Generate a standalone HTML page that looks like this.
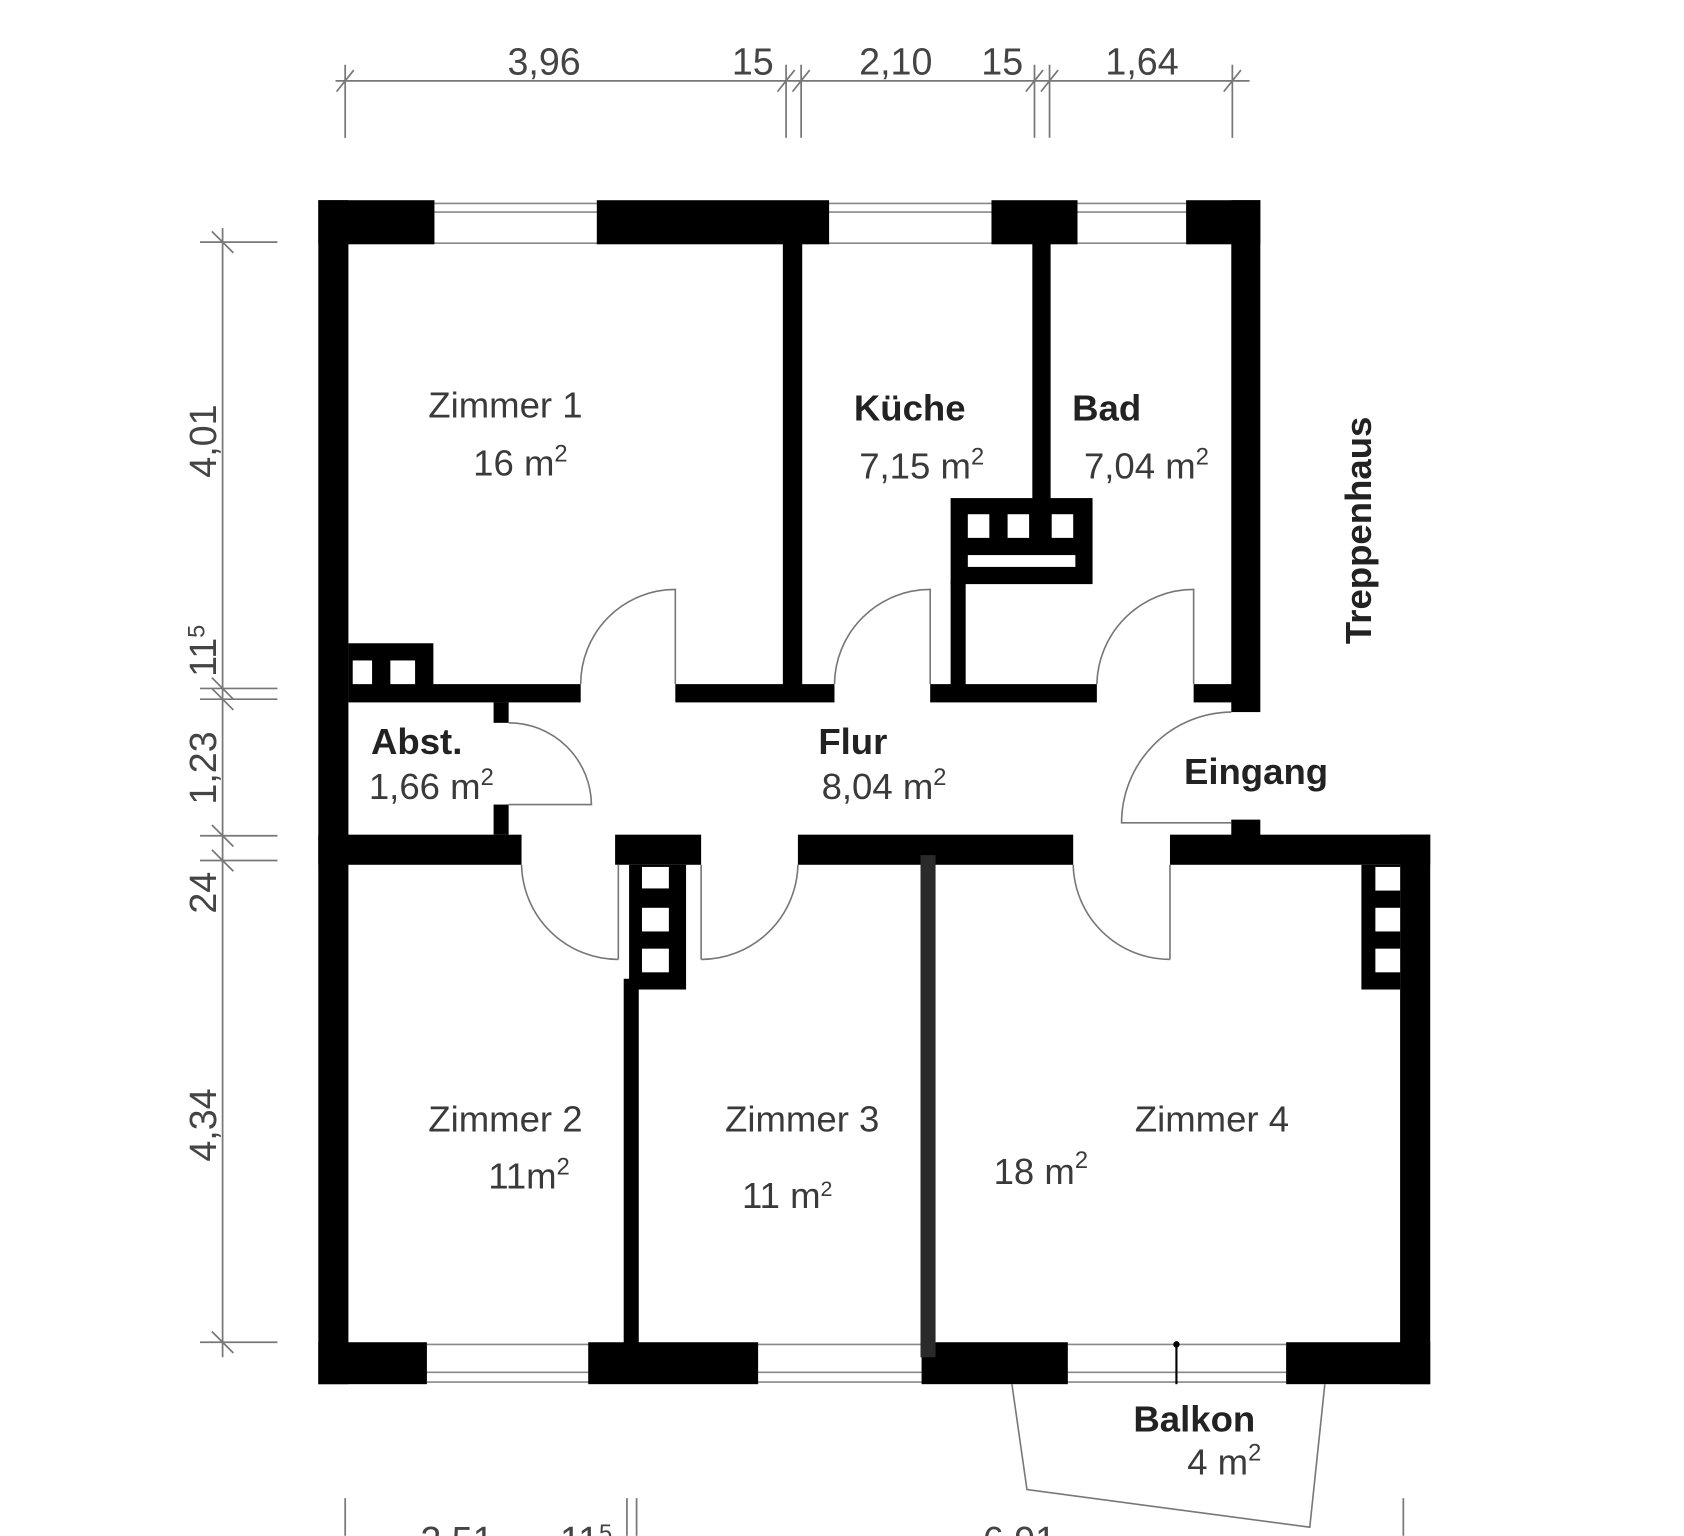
<!DOCTYPE html>
<html><head><meta charset="utf-8"><style>
html,body{margin:0;padding:0;background:#fff;}
svg{display:block;}
text{font-family:"Liberation Sans",sans-serif;}
.n{fill:#3a3a3a;font-size:34px;}
.b{fill:#222;font-size:34px;font-weight:bold;}
.d{fill:#444;font-size:35px;}
</style></head><body>
<svg width="1684" height="1536" viewBox="0 0 1566 1428" xmlns="http://www.w3.org/2000/svg">
<rect width="1566" height="1428" fill="#fff"/>
<g stroke="#777" stroke-width="1.6" fill="none">
<line x1="312" y1="75" x2="1162" y2="75"/>
<line x1="321" y1="60" x2="321" y2="128"/>
<line x1="731" y1="60" x2="731" y2="128"/>
<line x1="745" y1="60" x2="745" y2="128"/>
<line x1="962" y1="60" x2="962" y2="128"/>
<line x1="976" y1="60" x2="976" y2="128"/>
<line x1="1146" y1="60" x2="1146" y2="128"/>
<line x1="313" y1="85" x2="329" y2="65"/>
<line x1="723" y1="85" x2="739" y2="65"/>
<line x1="737" y1="85" x2="753" y2="65"/>
<line x1="954" y1="85" x2="970" y2="65"/>
<line x1="968" y1="85" x2="984" y2="65"/>
<line x1="1138" y1="85" x2="1154" y2="65"/>
<line x1="207" y1="212" x2="207" y2="1262"/>
<line x1="186" y1="225" x2="258" y2="225"/>
<line x1="186" y1="640" x2="258" y2="640"/>
<line x1="186" y1="650" x2="258" y2="650"/>
<line x1="186" y1="777" x2="258" y2="777"/>
<line x1="186" y1="800" x2="258" y2="800"/>
<line x1="186" y1="1248" x2="258" y2="1248"/>
<line x1="197" y1="215" x2="217" y2="235"/>
<line x1="197" y1="630" x2="217" y2="650"/>
<line x1="197" y1="640" x2="217" y2="660"/>
<line x1="197" y1="767" x2="217" y2="787"/>
<line x1="197" y1="790" x2="217" y2="810"/>
<line x1="197" y1="1238" x2="217" y2="1258"/>
<line x1="321" y1="1393" x2="321" y2="1428"/>
<line x1="583" y1="1393" x2="583" y2="1428"/>
<line x1="592" y1="1393" x2="592" y2="1428"/>
<line x1="1305" y1="1393" x2="1305" y2="1428"/>
</g>
<text class="d" x="506" y="69" text-anchor="middle">3,96</text>
<text class="d" x="700" y="69" text-anchor="middle">15</text>
<text class="d" x="833" y="69" text-anchor="middle">2,10</text>
<text class="d" x="932" y="69" text-anchor="middle">15</text>
<text class="d" x="1062" y="69" text-anchor="middle">1,64</text>
<text class="d" transform="translate(201,410) rotate(-90)" text-anchor="middle">4,01</text>
<text class="d" transform="translate(201,605) rotate(-90)" text-anchor="middle">11<tspan font-size="22" dy="-11">5</tspan></text>
<text class="d" transform="translate(201,714) rotate(-90)" text-anchor="middle">1,23</text>
<text class="d" transform="translate(201,830) rotate(-90)" text-anchor="middle">24</text>
<text class="d" transform="translate(201,1046) rotate(-90)" text-anchor="middle">4,34</text>
<text class="d" x="425" y="1444" text-anchor="middle">2,51</text>
<text class="d" x="545" y="1444" text-anchor="middle">11<tspan font-size="22" dy="-11">5</tspan></text>
<text class="d" x="948" y="1444" text-anchor="middle">6,91</text>
<g stroke="#888" stroke-width="1.5">
<line x1="404" y1="189" x2="1103" y2="189"/>
<line x1="404" y1="197" x2="1103" y2="197"/>
<line x1="404" y1="226" x2="1103" y2="226"/>
<line x1="397" y1="1250" x2="1196" y2="1250"/>
<line x1="397" y1="1276" x2="1196" y2="1276"/>
<line x1="397" y1="1285" x2="1196" y2="1285"/>
</g>
<g fill="#000">
<rect x="296" y="186" width="108" height="41"/>
<rect x="555" y="186" width="216" height="41"/>
<rect x="922" y="186" width="80" height="41"/>
<rect x="1103" y="186" width="69" height="41"/>
<rect x="296" y="186" width="28" height="1101"/>
<rect x="1145" y="186" width="27" height="476"/>
<rect x="728" y="226" width="18" height="426"/>
<rect x="960" y="226" width="17" height="240"/>
<rect x="884" y="463" width="132" height="80"/>
<rect x="884" y="540" width="14" height="112"/>
<rect x="324" y="636" width="216" height="17"/>
<rect x="628" y="636" width="148" height="17"/>
<rect x="865" y="636" width="155" height="17"/>
<rect x="1110" y="636" width="40" height="17"/>
<rect x="324" y="598" width="79" height="40"/>
<rect x="459" y="653" width="14" height="19"/>
<rect x="459" y="748" width="14" height="28"/>
<rect x="296" y="776" width="189" height="28"/>
<rect x="572" y="776" width="80" height="28"/>
<rect x="742" y="776" width="256" height="28"/>
<rect x="1088" y="776" width="242" height="28"/>
<rect x="1145" y="762" width="27" height="16"/>
<rect x="1302" y="776" width="28" height="511"/>
<rect x="585" y="804" width="53" height="116"/>
<rect x="580" y="910" width="14" height="340"/>
<rect x="1266" y="804" width="36" height="116"/>
<rect x="296" y="1248" width="101" height="39"/>
<rect x="547" y="1248" width="158" height="39"/>
<rect x="857" y="1248" width="136" height="39"/>
<rect x="1196" y="1248" width="134" height="39"/>
</g>
<rect x="856" y="795" width="14" height="467" fill="#2a2a2a"/>
<g fill="#fff">
<rect x="900" y="478" width="20" height="22"/>
<rect x="937" y="478" width="20" height="22"/>
<rect x="978" y="478" width="20" height="22"/>
<rect x="900" y="516" width="100" height="11"/>
<rect x="328" y="614" width="18" height="22"/>
<rect x="363" y="614" width="23" height="22"/>
<rect x="597" y="806" width="25" height="20"/>
<rect x="597" y="844" width="25" height="22"/>
<rect x="597" y="882" width="25" height="22"/>
<rect x="1279" y="806" width="23" height="22"/>
<rect x="1279" y="844" width="23" height="22"/>
<rect x="1279" y="882" width="23" height="22"/>
</g>
<g stroke="#777" stroke-width="1.5" fill="none">
<path d="M628 636 V548 A88 88 0 0 0 540 636"/>
<path d="M865 636 V548 A89 89 0 0 0 776 636"/>
<path d="M1110 636 V548 A90 90 0 0 0 1020 636"/>
<path d="M473 672 A77 77 0 0 1 550 748 H473"/>
<path d="M1145 662 A103 103 0 0 0 1043 765 H1145"/>
<path d="M575 892 V804 M485 804 A90 90 0 0 0 575 892"/>
<path d="M652 892 V804 M742 804 A90 90 0 0 1 652 892"/>
<path d="M1088 892 V804 M998 804 A90 90 0 0 0 1088 892"/>
<path d="M941 1287 L955 1385 L1218 1420 L1232 1287"/>
</g>
<line x1="1094" y1="1250" x2="1094" y2="1287" stroke="#000" stroke-width="2"/>
<circle cx="1094" cy="1250" r="3" fill="#000"/>
<text class="n" x="470" y="388" text-anchor="middle">Zimmer 1</text>
<text class="n" x="440" y="442">16 m<tspan font-size="22" dy="-13">2</tspan></text>
<text class="b" x="846" y="391" text-anchor="middle">Küche</text>
<text class="n" x="799" y="445">7,15 m<tspan font-size="22" dy="-13">2</tspan></text>
<text class="b" x="997" y="391">Bad</text>
<text class="n" x="1008" y="445">7,04 m<tspan font-size="22" dy="-13">2</tspan></text>
<text class="b" transform="translate(1275,493) rotate(-90)" text-anchor="middle" font-size="32">Treppenhaus</text>
<text class="b" x="345" y="701">Abst.</text>
<text class="n" x="343" y="743">1,66 m<tspan font-size="22" dy="-13">2</tspan></text>
<text class="b" x="761" y="701">Flur</text>
<text class="n" x="764" y="743">8,04 m<tspan font-size="22" dy="-13">2</tspan></text>
<text class="b" x="1101" y="729">Eingang</text>
<text class="n" x="470" y="1052" text-anchor="middle">Zimmer 2</text>
<text class="n" x="454" y="1105">11m<tspan font-size="22" dy="-13">2</tspan></text>
<text class="n" x="746" y="1052" text-anchor="middle">Zimmer 3</text>
<text class="n" x="690" y="1123" font-size="30">11 m<tspan font-size="20" dy="-11">2</tspan></text>
<text class="n" x="1127" y="1052" text-anchor="middle">Zimmer 4</text>
<text class="n" x="924" y="1101">18 m<tspan font-size="22" dy="-15">2</tspan></text>
<text class="b" x="1054" y="1331">Balkon</text>
<text class="n" x="1104" y="1371">4 m<tspan font-size="22" dy="-13">2</tspan></text>
</svg>
</body></html>
